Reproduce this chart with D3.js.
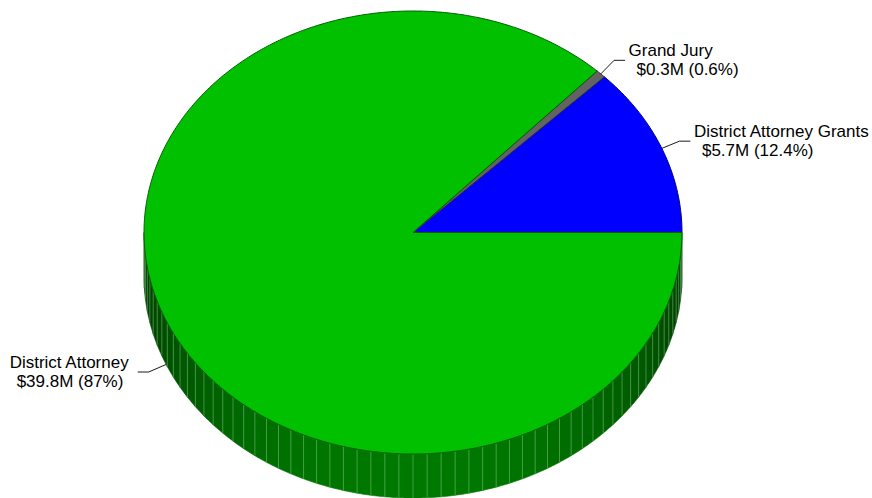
<!DOCTYPE html>
<html>
<head>
<meta charset="utf-8">
<script src="https://cdn.jsdelivr.net/npm/d3@7"></script>
<style>
  html, body { margin: 0; padding: 0; background: #fff; }
  svg { display: block; }
  text { font-family: "Liberation Sans", Arial, sans-serif; font-size: 17px; fill: #000; }
</style>
</head>
<body>
<svg id="chart" width="872" height="498"></svg>
<script>
// Budget split, shares in percent of total
const categories = ["District Attorney Grants", "Grand Jury", "District Attorney"];
const amountLabels = ["$5.7M", "$0.3M", "$39.8M"];
const shares = [12.4, 0.6, 87];
const shareLabels = ["12.4%", "0.6%", "87%"];
const fills = ["#0000ff", "#636363", "#00c000"];
const strokes = ["#000080", "#303030", "#006000"];

const W = 872, H = 498;
const cx = 413, cy = 232.5, rx = 269, ry = 221.5, depth = 44;

const svg = d3.select("#chart");

const rows = categories.map((c, i) => ({
  name: c, amount: amountLabels[i], share: shares[i], shareLabel: shareLabels[i],
  fill: fills[i], stroke: strokes[i]
}));

// d3.pie angles run clockwise from 12 o'clock; sweep counter-clockwise from 3 o'clock
const arcs = d3.pie().sort(null).value(d => d.share)
  .startAngle(Math.PI / 2).endAngle(Math.PI / 2 - 2 * Math.PI)(rows)
  .map(a => ({ data: a.data, a0: Math.PI / 2 - a.startAngle, a1: Math.PI / 2 - a.endAngle }));

const pt = (a, dy = 0) => [cx + rx * Math.cos(a), cy - ry * Math.sin(a) + dy];
const line = d3.line();
const deg = Math.PI / 180;

function arcPoints(a0, a1, dy = 0) {
  const n = Math.max(2, Math.ceil(Math.abs(a1 - a0) / (0.5 * deg)));
  return d3.range(n + 1).map(k => pt(a0 + (a1 - a0) * k / n, dy));
}

// Side wall: front half only (angles π..2π), in 3° facets
const sideG = svg.append("g");
const step = 3 * deg;
arcs.forEach(s => {
  const lo = Math.max(s.a0, Math.PI), hi = Math.min(s.a1, 2 * Math.PI);
  if (hi <= lo) return;
  const cuts = [lo];
  for (let a = Math.ceil(lo / step + 1e-9) * step; a < hi - 1e-9; a += step) cuts.push(a);
  cuts.push(hi);
  const base = d3.rgb(s.data.fill);
  for (let i = 0; i < cuts.length - 1; i++) {
    const b0 = cuts[i], b1 = cuts[i + 1];
    const mid = (b0 + b1) / 2;
    const f = 0.27 + 0.36 * Math.abs(Math.sin(mid));
    const col = d3.rgb(base.r * f, base.g * f, base.b * f);
    const top = arcPoints(b0, b1);
    const bot = arcPoints(b1, b0, depth);
    sideG.append("path")
      .attr("d", line(top.concat(bot)) + "Z")
      .attr("fill", col).attr("stroke", col).attr("stroke-width", 0.6);
  }
  // facet seams
  cuts.slice(1, -1).forEach(a => {
    const p0 = pt(a), p1 = pt(a, depth);
    sideG.append("line")
      .attr("x1", p0[0]).attr("y1", p0[1]).attr("x2", p1[0]).attr("y2", p1[1])
      .attr("stroke", "rgba(130,210,130,0.45)").attr("stroke-width", 1);
  });
});

// Top face slices
const topG = svg.append("g");
arcs.forEach(s => {
  const pts = [[cx, cy]].concat(arcPoints(s.a0, s.a1));
  topG.append("path")
    .attr("d", line(pts) + "Z")
    .attr("fill", s.data.fill)
    .attr("stroke", s.data.stroke)
    .attr("stroke-width", 1)
    .attr("stroke-linejoin", "round");
});

// Leader lines and labels
const labG = svg.append("g");
arcs.forEach(s => {
  const mid = (s.a0 + s.a1) / 2;
  const front = Math.sin(mid) < 0;
  const p0 = pt(mid, front ? depth : 0);
  const p1 = [p0[0] + 19 * Math.cos(mid), p0[1] - 19 * Math.sin(mid)];
  const right = Math.cos(mid) >= 0;
  const p2 = [p1[0] + (right ? 11 : -11), p1[1]];
  labG.append("path")
    .attr("d", line([p0, p1, p2]))
    .attr("fill", "none").attr("stroke", "#000").attr("stroke-width", 0.9);

  const t1 = labG.append("text")
    .attr("y", p2[1] - 4)
    .text(s.data.name);
  if (right) {
    t1.attr("x", p2[0] + 3.5);
    labG.append("text").attr("x", p2[0] + 11.5).attr("y", p2[1] + 15)
      .text(`${s.data.amount} (${s.data.shareLabel})`);
  } else {
    t1.attr("x", p2[0] - 9).attr("text-anchor", "end");
    const bx = t1.node().getBBox().x;
    labG.append("text").attr("x", bx + 7).attr("y", p2[1] + 15)
      .text(`${s.data.amount} (${s.data.shareLabel})`);
  }
});
</script>
</body>
</html>
